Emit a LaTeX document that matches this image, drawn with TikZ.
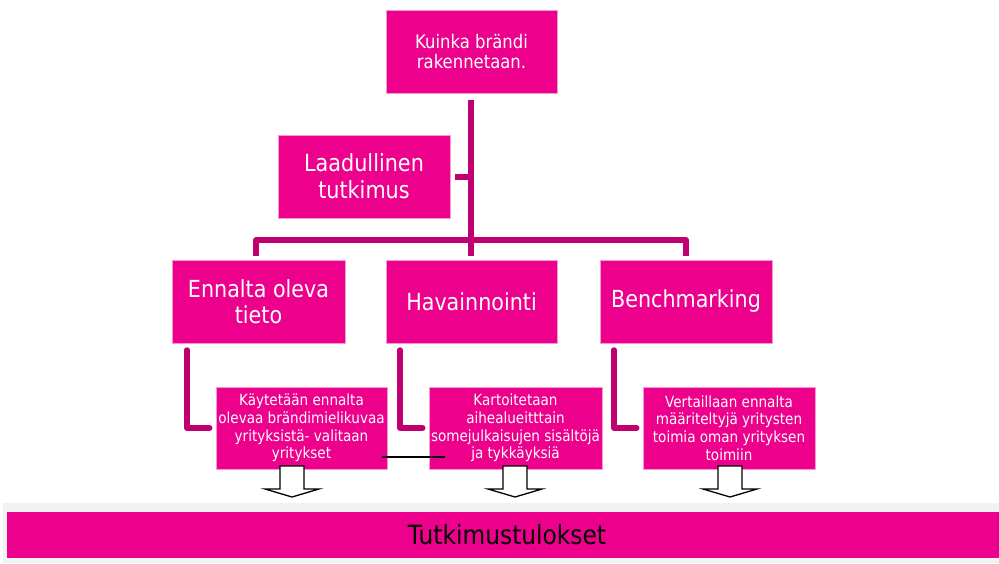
\documentclass[tikz,border=0pt]{standalone}
\usepackage{fontspec}
\setmainfont{DejaVu Sans}[FakeStretch=0.88]
\usetikzlibrary{calc}
\definecolor{mag}{RGB}{236,0,140}
\definecolor{conn}{RGB}{192,0,112}
\definecolor{bandgrey}{RGB}{242,242,242}
\tikzset{
  box/.style={fill=mag, draw=mag!40, line width=0.6pt, text=white, align=center, inner sep=1pt},
  smallbox/.style={box, minimum width=171pt, minimum height=82pt, font=\fontsize{15.4}{17.8}\selectfont},
  midbox/.style={box, minimum width=172pt, minimum height=83pt, font=\fontsize{23.5}{26}\selectfont},
  wire/.style={draw=conn, line width=5.5pt, line cap=round, line join=round},
  blockarrow/.style={draw=black, fill=white, line width=1.3pt, line join=miter},
}
\begin{document}
\begin{tikzpicture}[x=1pt,y=-1pt]
\useasboundingbox (0,0) rectangle (999,563);
% bottom band
\fill[bandgrey] (3,503) rectangle (999,563);
\node[fill=mag, minimum width=992pt, minimum height=46pt, inner sep=0pt, font=\fontsize{26.5}{30}\selectfont, text=black] (res) at (503,535) {\hspace*{8pt}Tutkimustulokset};
% boxes
\node[box, minimum width=171pt, minimum height=83pt, font=\fontsize{18.7}{20.5}\selectfont] (top) at (471.5,51.5) {Kuinka brändi\\rakennetaan.};
\node[box, minimum width=172pt, minimum height=83pt, font=\fontsize{23.6}{27}\selectfont] (laad) at (364,176.5) {Laadullinen\\tutkimus};
\node[midbox, minimum width=173pt] (enn) at (258.5,301.5) {Ennalta oleva\\tieto};
\node[midbox, minimum width=171pt] (hav) at (471.5,301.5) {Havainnointi};
\node[midbox] (ben) at (686,301.5) {Benchmarking};
\node[smallbox] (kay) at (301.5,428) {Käytetään ennalta\\olevaa brändimielikuvaa\\yrityksistä- valitaan\\yritykset};
\node[smallbox, minimum width=173pt] (kar) at (515.5,428) {Kartoitetaan\\aihealueitttain\\somejulkaisujen sisältöjä\\ja tykkäyksiä};
\node[smallbox, minimum width=172pt] (ver) at (729,428) {Vertaillaan ennalta\\määriteltyjä yritysten\\toimia oman yrityksen\\toimiin};
% tree connectors
\coordinate (vt) at (471,100);
\coordinate (vb) at (471,256);
\coordinate (hl) at (256,240);
\coordinate (hr) at (686,240);
\coordinate (stub) at (455,177);
\draw[wire, line cap=butt] (vt) -- (vb);
\draw[wire, line cap=butt] (stub) -- (stub -| vt);
\draw[wire, line cap=butt] ($(hl)+(0,16)$) -- (hl) -- (hr) -- ($(hr)+(0,16)$);
% L connectors
\draw[wire] (187,350) |- ($(kay.west)+(-6,0)$);
\draw[wire] (400,350) |- ($(kar.west)+(-6,0)$);
\draw[wire] (614,350) |- ($(ver.west)+(-6,0)$);
% thin black line
\coordinate (bl1) at (382,457);
\coordinate (bl2) at (445,457);
\draw[black, line width=1.3pt] (bl1) -- (bl2);
% block arrows
\foreach \cx in {292,515,730}{
  \draw[blockarrow] (\cx-12,466) -- (\cx+12,466) -- (\cx+12,489) -- (\cx+27,489) -- (\cx,497) -- (\cx-27,489) -- (\cx-12,489) -- cycle;
}
\end{tikzpicture}
\end{document}
